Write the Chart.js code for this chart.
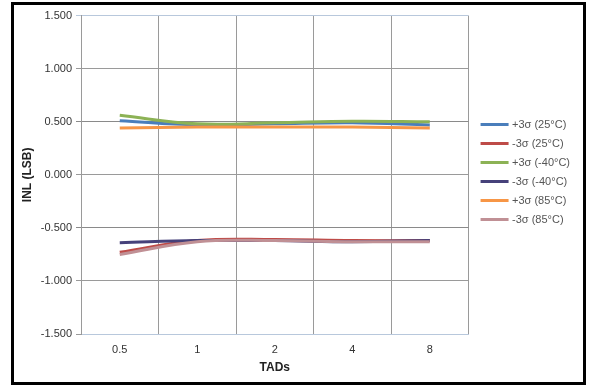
<!DOCTYPE html>
<html>
<head>
<meta charset="utf-8">
<script src="https://cdn.jsdelivr.net/npm/chart.js@4.4.1/dist/chart.umd.min.js"></script>
<style>
  html, body { margin: 0; padding: 0; background: #fff; }
  #frame {
    position: absolute; left: 11px; top: 2px;
    width: 569px; height: 377px;
    border: 3px solid #000;
  }
</style>
</head>
<body>
<div id="frame"><canvas id="inlChart" width="569" height="377"></canvas></div>
<script>
// data
const tads = ['0.5', '1', '2', '4', '8'];
const plus25 = [0.51, 0.47, 0.48, 0.49, 0.47];
const minus25 = [-0.73, -0.62, -0.61, -0.62, -0.62];
const plusM40 = [0.56, 0.48, 0.49, 0.505, 0.50];
const minusM40 = [-0.64, -0.62, -0.62, -0.63, -0.62];
const plus85 = [0.44, 0.45, 0.45, 0.45, 0.44];
const minus85 = [-0.75, -0.63, -0.62, -0.63, -0.63];
const seriesNames = ['+3\u03c3 (25\u00b0C)', '-3\u03c3 (25\u00b0C)', '+3\u03c3 (-40\u00b0C)',
                     '-3\u03c3 (-40\u00b0C)', '+3\u03c3 (85\u00b0C)', '-3\u03c3 (85\u00b0C)'];
const yTicks = [-1.5, -1.0, -0.5, 0, 0.5, 1.0, 1.5];

const seriesData = [plus25, minus25, plusM40, minusM40, plus85, minus85];
const seriesColors = ['#4a7ebb', '#be4b48', '#8cb255', '#46417a', '#f79646', '#c09095'];

const gridGray = '#9a9a9a';
const edgeBlue = '#b8c8dc';
const fontFam = 'Liberation Sans, Arial, sans-serif';

// legend swatch: 28px line with a little empty space in front of it
function swatch(color) {
    const c = document.createElement('canvas');
    c.width = 36;
    c.height = 3;
    const g = c.getContext('2d');
    g.fillStyle = color;
    g.fillRect(7, 0, 28, 3);
    return c;
}
const swatches = seriesColors.map(swatch);

const ctx = document.getElementById('inlChart').getContext('2d');
const chart = new Chart(ctx, {
    type: 'line',
    data: {
        labels: tads,
        datasets: seriesData.map((d, i) => ({
            label: seriesNames[i],
            data: d,
            borderColor: seriesColors[i],
            backgroundColor: seriesColors[i],
            borderWidth: 3,
            pointRadius: 0,
            tension: 0.4,
            fill: false,
            order: seriesData.length - i   // later series on top, like Excel
        }))
    },
    options: {
        responsive: false,
        animation: false,
        layout: { padding: { top: 6, right: 3, bottom: 0, left: 0 } },
        plugins: {
            tooltip: { enabled: false },
            legend: {
                position: 'right',
                fullSize: false,
                align: 'start',
                // empty title only pushes the entries down
                title: { display: true, text: '', padding: { top: 42, bottom: 39 } },
                labels: {
                    generateLabels: c => Chart.defaults.plugins.legend.labels.generateLabels(c)
                        .map(l => Object.assign(l, { pointStyle: swatches[l.datasetIndex], lineWidth: 0 })),
                    sort: (a, b) => a.datasetIndex - b.datasetIndex,
                    usePointStyle: true,
                    pointStyleWidth: 30,
                    padding: 8,
                    color: '#555',
                    font: { family: fontFam, size: 11 }
                }
            }
        },
        scales: {
            x: {
                offset: true,
                grid: {
                    offset: true,
                    drawTicks: false,
                    color: c => c.index === tads.length ? edgeBlue : gridGray
                },
                border: { color: edgeBlue },
                ticks: {
                    padding: 9,
                    color: '#333',
                    font: { family: fontFam, size: 11 }
                },
                title: {
                    display: true,
                    text: 'TADs',
                    color: '#222',
                    padding: { top: 4, bottom: 7 },
                    font: { family: fontFam, size: 12, weight: 'bold' }
                },
                afterFit: s => { s.height = 48; }
            },
            y: {
                min: yTicks[0],
                max: yTicks[yTicks.length - 1],
                afterBuildTicks: s => { s.ticks = yTicks.map(v => ({ value: v })); },
                grid: {
                    tickLength: 5,
                    color: c => c.tick && c.tick.value === 1.5 ? edgeBlue :
                                (Math.abs(c.tick.value) === 0.5 ? '#8a8a8a' : gridGray)
                },
                border: { color: gridGray },
                ticks: {
                    padding: 4,
                    color: '#333',
                    font: { family: fontFam, size: 11 },
                    callback: v => v.toFixed(3)
                },
                title: {
                    display: true,
                    text: 'INL (LSB)',
                    color: '#222',
                    padding: { top: 6, bottom: 0 },
                    font: { family: fontFam, size: 12, weight: 'bold' }
                },
                afterFit: s => { s.width = 67; }
            }
        }
    }
});
</script>
</body>
</html>
